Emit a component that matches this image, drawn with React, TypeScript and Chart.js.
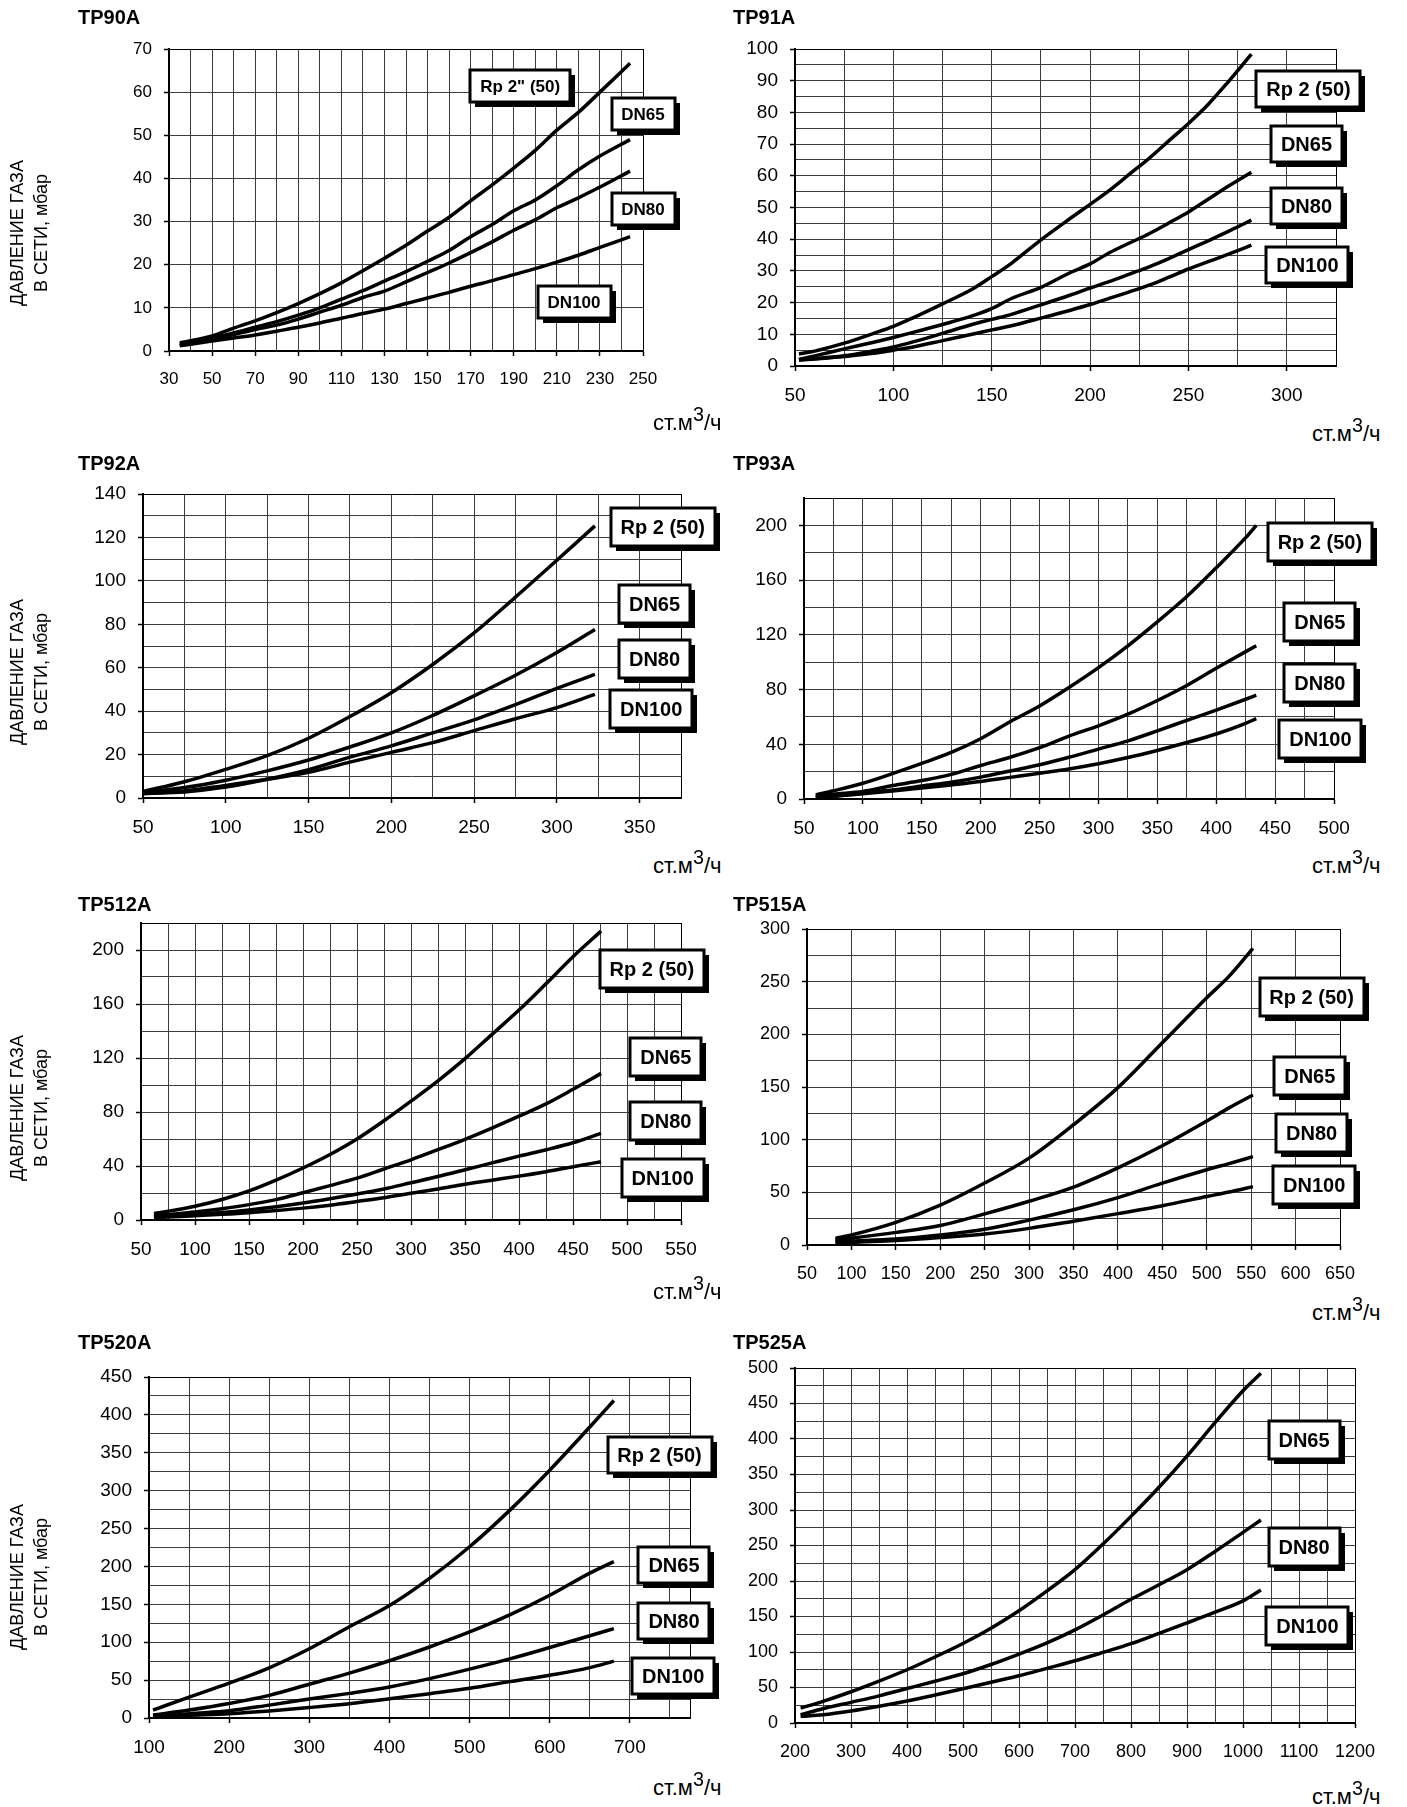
import { useEffect, useRef } from "react";
import { Chart, registerables } from "chart.js";

Chart.register(...registerables);

const FONT = '"Liberation Sans", Arial, Helvetica, sans-serif';

// TP90A
const TP90A_X = [35, 50, 60, 70, 80, 90, 100, 110, 120, 130, 140, 150, 160, 170, 180, 190, 200, 210, 220, 230, 244];
const TP90A_RP2 = [1.9, 3.5, 5.3, 7, 8.9, 11, 13.3, 15.8, 18.6, 21.5, 24.5, 27.8, 31, 34.8, 38.5, 42.4, 46.5, 51.2, 55.3, 60, 66.7];
const TP90A_DN65 = [1.5, 3, 4.2, 5.5, 6.8, 8.3, 10, 12, 14, 16.2, 18.4, 20.8, 23.3, 26.5, 29.3, 32.5, 35, 38.3, 42, 45.2, 49];
const TP90A_DN80 = [1.3, 2.7, 3.8, 5, 6, 7.4, 9, 10.6, 12.4, 13.9, 16, 18.2, 20.4, 22.8, 25.3, 28, 30.4, 33.2, 35.5, 38, 41.7];
const TP90A_DN100 = [1.2, 2.3, 3, 3.7, 4.6, 5.5, 6.5, 7.6, 8.7, 9.7, 11, 12.3, 13.6, 15, 16.3, 17.7, 19.1, 20.6, 22.2, 24, 26.5];

// TP91A
const TP91A_X = [52, 60, 75, 90, 100, 110, 125, 140, 150, 160, 175, 190, 200, 210, 220, 230, 240, 250, 260, 270, 282];
const TP91A_RP2 = [3.8, 4.7, 7.2, 10.3, 12.5, 15.2, 19.6, 24.2, 28.2, 32.4, 39.8, 46.6, 51, 55.5, 60.5, 65.5, 71, 76.5, 82.5, 89.5, 98.4];
const TP91A_DN65 = [2.1, 3.2, 5.4, 7.5, 9, 10.6, 13.1, 15.8, 18.1, 21.3, 24.8, 29.5, 32.2, 35.8, 38.8, 41.7, 45.1, 48.6, 52.6, 56.6, 61.1];
const TP91A_DN80 = [2, 2.3, 3.2, 4.8, 6, 7.6, 10.3, 13.1, 14.7, 16.3, 19.3, 22.4, 24.6, 26.7, 29, 31.3, 33.9, 36.7, 39.5, 42.4, 46];
const TP91A_DN100 = [1.8, 2.2, 3, 4, 5, 6, 8, 10, 11.4, 12.7, 15.1, 17.6, 19.4, 21.4, 23.4, 25.5, 28, 30.6, 32.9, 35.2, 38.1];

// TP92A
const TP92A_X = [50, 75, 100, 125, 150, 175, 200, 225, 250, 275, 300, 323];
const TP92A_RP2 = [3, 7.5, 13.2, 19.5, 27.5, 37.5, 48.5, 61.5, 76, 92.5, 109.5, 125.3];
const TP92A_DN65 = [2.5, 4.8, 8.2, 12.5, 17.5, 23.5, 30, 38, 47, 56.5, 67, 77.6];
const TP92A_DN80 = [2.2, 2.8, 5, 8.6, 13, 18.8, 24, 30, 36, 43, 50.5, 56.9];
const TP92A_DN100 = [2, 3.2, 5.8, 8.6, 11.8, 16.5, 21, 25.5, 31, 36.5, 41.6, 47.7];

// TP93A
const TP93A_X = [60, 75, 100, 125, 150, 175, 200, 225, 250, 275, 300, 325, 350, 375, 400, 425, 434];
const TP93A_RP2 = [3, 6, 11.5, 18.5, 26, 34, 44, 56.5, 68, 81.5, 96, 112, 129.5, 148, 169, 191, 200];
const TP93A_DN65 = [2, 3.5, 5.5, 9.8, 13.5, 18, 24.5, 30.5, 37.5, 46, 53.5, 62, 72, 83, 95.5, 107.7, 112];
const TP93A_DN80 = [1.2, 2, 4.3, 6.5, 9.5, 12.3, 16, 20.5, 25, 30.5, 36.5, 42.5, 49.8, 57.5, 65, 72.9, 75.9];
const TP93A_DN100 = [1.2, 2, 3.8, 5.8, 8, 10.3, 12.8, 15.8, 18.8, 22, 25.8, 30.3, 35.5, 41.3, 47.5, 55.3, 58.7];

// TP512A
const TP512A_X = [62, 75, 100, 125, 150, 175, 200, 225, 250, 275, 300, 325, 350, 375, 400, 425, 450, 476];
const TP512A_RP2 = [4.9, 6.5, 10.2, 15.2, 21.5, 29.5, 38.5, 48.5, 60, 73.5, 88, 103, 119.5, 137.5, 155.5, 175, 195, 214];
const TP512A_DN65 = [3, 4, 5.9, 8.4, 11.4, 15.1, 20.2, 25.5, 31, 37.8, 44.6, 52.1, 59.8, 68.1, 76.9, 86, 96.8, 108.6];
const TP512A_DN80 = [2.5, 3, 4.2, 5.6, 7.5, 9.8, 12.6, 15.8, 19.2, 23, 27.6, 32.2, 37.2, 42.3, 47.3, 52, 57.2, 64.2];
const TP512A_DN100 = [1.7, 2.2, 3.2, 4.2, 5.4, 7, 8.8, 11, 13.7, 16.5, 19.8, 23, 26.5, 29.5, 32.5, 35.8, 39.5, 43.2];

// TP515A
const TP515A_X = [82, 100, 150, 200, 250, 300, 350, 400, 450, 500, 525, 552];
const TP515A_RP2 = [6.3, 9.5, 21.5, 37.8, 58.8, 82.5, 114.2, 149.4, 192, 234.7, 255, 281.6];
const TP515A_DN65 = [4.7, 6.5, 12, 18.5, 29.5, 41.5, 55, 73.3, 94.2, 117.7, 130.2, 142.4];
const TP515A_DN80 = [3.2, 3.8, 5.6, 9.5, 14.9, 23.6, 33.4, 45, 58.7, 71.4, 77.3, 83.9];
const TP515A_DN100 = [1.6, 2.5, 4.2, 7, 10.5, 15.8, 22.6, 29.8, 37.3, 46, 50.3, 55.4];

// TP520A
const TP520A_X = [105, 150, 200, 250, 300, 350, 400, 450, 500, 550, 600, 650, 680];
const TP520A_RP2 = [10.5, 27.5, 46, 66.2, 91.3, 120.4, 148.4, 184.3, 226, 274, 327, 384, 419];
const TP520A_DN65 = [4, 10.5, 19.2, 29.9, 44.6, 59.3, 75.6, 93.7, 113.5, 136, 162, 191.2, 206.4];
const TP520A_DN80 = [1.5, 5.7, 9.5, 17, 25, 32.5, 41, 52, 64.5, 78, 93, 108.5, 118];
const TP520A_DN100 = [1.3, 3.5, 5.7, 9.3, 13.8, 18.9, 25.3, 32.1, 39.2, 48, 56.5, 66.5, 75];

// TP525A
const TP525A_X = [210, 250, 300, 350, 400, 450, 500, 550, 600, 650, 700, 750, 800, 850, 900, 950, 1000, 1032];
const TP525A_DN65 = [21, 30.5, 44, 59, 75, 93, 112, 133.5, 158, 186, 216, 252, 291, 332, 376, 423, 468, 492.5];
const TP525A_DN80 = [11.8, 20.1, 29.1, 38.2, 48.5, 58.8, 69.4, 82.4, 97.1, 112.9, 131.2, 152.1, 174.2, 194.7, 216, 241.5, 268.5, 286];
const TP525A_DN100 = [9.4, 11.5, 16.8, 23.5, 31, 39.4, 48.2, 57.5, 66.5, 77, 87.6, 99.4, 111.7, 126.2, 140.9, 156, 172, 187.2];

type Axis = { min: number; max: number; grid: number; label: number };
type Tag = { text: string; x: number; y: number };
type Panel = {
  name: string;
  col: 0 | 1;
  plot: [number, number, number, number]; // l, t, r, b on the page
  xAxis: Axis;
  yAxis: Axis;
  xs: number[];
  series: number[][];
  tags: Tag[];
  tick: number;
  tag: number;
  tagH: number;
  titleY: number;
  unitY: number;
  yTitleY?: number;
};

const PANELS: Panel[] = [
  {
    name: "TP90A", col: 0, plot: [169, 49, 643, 351],
    xAxis: { min: 30, max: 250, grid: 10, label: 20 }, yAxis: { min: 0, max: 70, grid: 10, label: 10 },
    xs: TP90A_X, series: [TP90A_RP2, TP90A_DN65, TP90A_DN80, TP90A_DN100],
    tags: [
      { text: 'Rp 2" (50)', x: 193, y: 61.5 },
      { text: "DN65", x: 250, y: 55 },
      { text: "DN80", x: 250, y: 33 },
      { text: "DN100", x: 218, y: 11.4 },
    ],
    tick: 17, tag: 17, tagH: 32, titleY: 17, unitY: 423, yTitleY: 233,
  },
  {
    name: "TP91A", col: 1, plot: [795, 49, 1336, 366],
    xAxis: { min: 50, max: 325, grid: 25, label: 50 }, yAxis: { min: 0, max: 100, grid: 5, label: 10 },
    xs: TP91A_X, series: [TP91A_RP2, TP91A_DN65, TP91A_DN80, TP91A_DN100],
    tags: [
      { text: "Rp 2 (50)", x: 311, y: 87.3 },
      { text: "DN65", x: 310, y: 70 },
      { text: "DN80", x: 310, y: 50.5 },
      { text: "DN100", x: 310.5, y: 32 },
    ],
    tick: 19, tag: 20, tagH: 36, titleY: 17, unitY: 434,
  },
  {
    name: "TP92A", col: 0, plot: [143, 494, 681, 798],
    xAxis: { min: 50, max: 375, grid: 25, label: 50 }, yAxis: { min: 0, max: 140, grid: 10, label: 20 },
    xs: TP92A_X, series: [TP92A_RP2, TP92A_DN65, TP92A_DN80, TP92A_DN100],
    tags: [
      { text: "Rp 2 (50)", x: 364, y: 125 },
      { text: "DN65", x: 359, y: 89.5 },
      { text: "DN80", x: 359, y: 64 },
      { text: "DN100", x: 357, y: 41 },
    ],
    tick: 19, tag: 20, tagH: 38, titleY: 463, unitY: 866, yTitleY: 672,
  },
  {
    name: "TP93A", col: 1, plot: [804, 498, 1334, 799],
    xAxis: { min: 50, max: 500, grid: 25, label: 50 }, yAxis: { min: 0, max: 220, grid: 20, label: 40 },
    xs: TP93A_X, series: [TP93A_RP2, TP93A_DN65, TP93A_DN80, TP93A_DN100],
    tags: [
      { text: "Rp 2 (50)", x: 488, y: 188 },
      { text: "DN65", x: 488, y: 129.5 },
      { text: "DN80", x: 488, y: 84.5 },
      { text: "DN100", x: 488.5, y: 43.5 },
    ],
    tick: 19, tag: 20, tagH: 38, titleY: 463, unitY: 866,
  },
  {
    name: "TP512A", col: 0, plot: [141, 923, 681, 1220],
    xAxis: { min: 50, max: 550, grid: 25, label: 50 }, yAxis: { min: 0, max: 220, grid: 20, label: 40 },
    xs: TP512A_X, series: [TP512A_RP2, TP512A_DN65, TP512A_DN80, TP512A_DN100],
    tags: [
      { text: "Rp 2 (50)", x: 523, y: 186 },
      { text: "DN65", x: 536, y: 121 },
      { text: "DN80", x: 536, y: 73.5 },
      { text: "DN100", x: 533, y: 31 },
    ],
    tick: 19, tag: 20, tagH: 38, titleY: 904, unitY: 1292, yTitleY: 1108,
  },
  {
    name: "TP515A", col: 1, plot: [807, 929, 1340, 1245],
    xAxis: { min: 50, max: 650, grid: 50, label: 50 }, yAxis: { min: 0, max: 300, grid: 25, label: 50 },
    xs: TP515A_X, series: [TP515A_RP2, TP515A_DN65, TP515A_DN80, TP515A_DN100],
    tags: [
      { text: "Rp 2 (50)", x: 618, y: 235 },
      { text: "DN65", x: 616, y: 160.5 },
      { text: "DN80", x: 618, y: 106.5 },
      { text: "DN100", x: 621, y: 57 },
    ],
    tick: 18, tag: 20, tagH: 38, titleY: 904, unitY: 1313,
  },
  {
    name: "TP520A", col: 0, plot: [149, 1377, 690, 1718],
    xAxis: { min: 100, max: 775, grid: 50, label: 100 }, yAxis: { min: 0, max: 450, grid: 25, label: 50 },
    xs: TP520A_X, series: [TP520A_RP2, TP520A_DN65, TP520A_DN80, TP520A_DN100],
    tags: [
      { text: "Rp 2 (50)", x: 737, y: 347 },
      { text: "DN65", x: 755, y: 202 },
      { text: "DN80", x: 755, y: 128.5 },
      { text: "DN100", x: 754, y: 55.6 },
    ],
    tick: 19, tag: 20, tagH: 36, titleY: 1342, unitY: 1788, yTitleY: 1577,
  },
  {
    name: "TP525A", col: 1, plot: [795, 1368, 1355, 1723],
    xAxis: { min: 200, max: 1200, grid: 50, label: 100 }, yAxis: { min: 0, max: 500, grid: 25, label: 50 },
    xs: TP525A_X, series: [TP525A_DN65, TP525A_DN80, TP525A_DN100],
    tags: [
      { text: "DN65", x: 1109, y: 398 },
      { text: "DN80", x: 1109, y: 248 },
      { text: "DN100", x: 1115, y: 136 },
    ],
    tick: 18, tag: 20, tagH: 38, titleY: 1342, unitY: 1797,
  },
];

function gridValues(a: Axis) {
  const out: number[] = [];
  for (let v = a.min; v < a.max - 1e-9; v += a.grid) out.push(Math.round(v * 1000) / 1000);
  out.push(a.max);
  return out;
}

function isLabel(a: Axis, v: number) {
  const k = (v - a.min) / a.label;
  return Math.abs(k - Math.round(k)) < 1e-6;
}

const tagPlugin = {
  id: "tagBoxes",
  afterDraw(chart: any, _args: any, opts: any) {
    const { ctx, scales } = chart;
    ctx.save();
    ctx.font = `bold ${opts.size}px ${FONT}`;
    for (const t of opts.items as Tag[]) {
      const cx = scales.x.getPixelForValue(t.x);
      const cy = scales.y.getPixelForValue(t.y);
      const w = Math.round(ctx.measureText(t.text).width + 20);
      const h = opts.height;
      const left = Math.round(cx - w / 2);
      const top = Math.round(cy - h / 2);
      ctx.fillStyle = "#000";
      ctx.fillRect(left + 5, top + 5, w, h);
      ctx.fillStyle = "#fff";
      ctx.fillRect(left, top, w, h);
      ctx.lineWidth = 3;
      ctx.strokeStyle = "#000";
      ctx.strokeRect(left, top, w, h);
      ctx.fillStyle = "#000";
      ctx.textAlign = "center";
      ctx.textBaseline = "middle";
      ctx.fillText(t.text, cx, top + h / 2 + 1);
    }
    ctx.restore();
  },
};

function geometry(p: Panel) {
  const [l, t, r, b] = p.plot;
  const x = p.col === 0 ? 0 : 703;
  const w = p.col === 0 ? 745 : 704;
  const y = t - 25;
  const h = b - t + 75;
  return { x, y, w, h, axisW: l - x, padRight: x + w - r };
}

function scaleOptions(a: Axis, size: number, horizontal: boolean, fit: number) {
  return {
    type: "linear",
    min: a.min,
    max: a.max,
    afterBuildTicks: (s: any) => {
      s.ticks = gridValues(a).map((v) => ({ value: v }));
    },
    afterFit: (s: any) => {
      if (horizontal) s.height = fit;
      else s.width = fit;
    },
    ticks: {
      autoSkip: false,
      maxRotation: 0,
      minRotation: 0,
      padding: horizontal ? 13 : 12,
      color: "#000",
      font: { family: FONT, size },
      callback: (v: number) => (isLabel(a, v) ? String(v) : ""),
    },
    grid: {
      color: (c: any) => (c.tick && c.tick.value === a.max ? "#000" : "#3c3c3c"),
      lineWidth: 1,
      drawTicks: true,
      tickLength: 5,
      tickWidth: 1.5,
      tickColor: (c: any) => (c.tick && isLabel(a, c.tick.value) ? "#000" : "rgba(0,0,0,0)"),
    },
    border: { display: true, color: "#000", width: 2 },
  };
}

function PanelChart({ p }: { p: Panel }) {
  const ref = useRef<HTMLCanvasElement>(null);
  const g = geometry(p);

  useEffect(() => {
    if (!ref.current) return;
    const chart = new Chart(ref.current, {
      type: "line",
      data: {
        datasets: p.series.map((s) => ({
          data: p.xs.map((x, i) => ({ x, y: s[i] })),
          borderColor: "#000",
          borderWidth: 3.5,
          pointRadius: 0,
          tension: 0.35,
          cubicInterpolationMode: "monotone",
          fill: false,
        })),
      },
      options: {
        animation: false,
        responsive: false,
        events: [],
        layout: { padding: { left: 0, top: 25, right: g.padRight, bottom: 5 } },
        scales: {
          x: scaleOptions(p.xAxis, p.tick, true, 45),
          y: scaleOptions(p.yAxis, p.tick, false, g.axisW),
        },
        plugins: {
          legend: { display: false },
          tooltip: { enabled: false },
          tagBoxes: { items: p.tags, size: p.tag, height: p.tagH },
        },
      } as any,
      plugins: [tagPlugin],
    });
    return () => chart.destroy();
  }, [p]);

  return (
    <canvas
      ref={ref}
      width={g.w}
      height={g.h}
      style={{ position: "absolute", left: g.x, top: g.y, width: g.w, height: g.h }}
    />
  );
}

function PanelText({ p }: { p: Panel }) {
  const left = p.col === 0 ? 78 : 733;
  const unitLeft = p.col === 0 ? 653 : 1312;
  return (
    <>
      <div
        style={{
          position: "absolute", left, top: p.titleY - 12,
          font: `bold 20px ${FONT}`, lineHeight: "24px", color: "#000",
        }}
      >
        {p.name}
      </div>
      <div
        style={{
          position: "absolute", left: unitLeft, top: p.unitY - 12,
          font: `22px ${FONT}`, lineHeight: "24px", color: "#000", whiteSpace: "nowrap",
        }}
      >
        ст.м<span style={{ position: "relative", top: "-0.45em", fontSize: "0.9em" }}>3</span>/ч
      </div>
      {p.yTitleY !== undefined && (
        <div
          style={{
            position: "absolute", left: 29, top: p.yTitleY,
            transform: "translate(-50%, -50%) rotate(-90deg)",
            font: `18px ${FONT}`, lineHeight: "24px", color: "#000",
            whiteSpace: "nowrap", textAlign: "center",
          }}
        >
          ДАВЛЕНИЕ ГАЗА
          <br />
          В СЕТИ, мбар
        </div>
      )}
    </>
  );
}

export default function App() {
  return (
    <div
      style={{
        position: "absolute", left: 0, top: 0, width: 1407, height: 1807,
        background: "#fff", overflow: "hidden", fontFamily: FONT,
      }}
    >
      {PANELS.map((p) => (
        <PanelChart key={p.name} p={p} />
      ))}
      {PANELS.map((p) => (
        <PanelText key={p.name + "-text"} p={p} />
      ))}
    </div>
  );
}
